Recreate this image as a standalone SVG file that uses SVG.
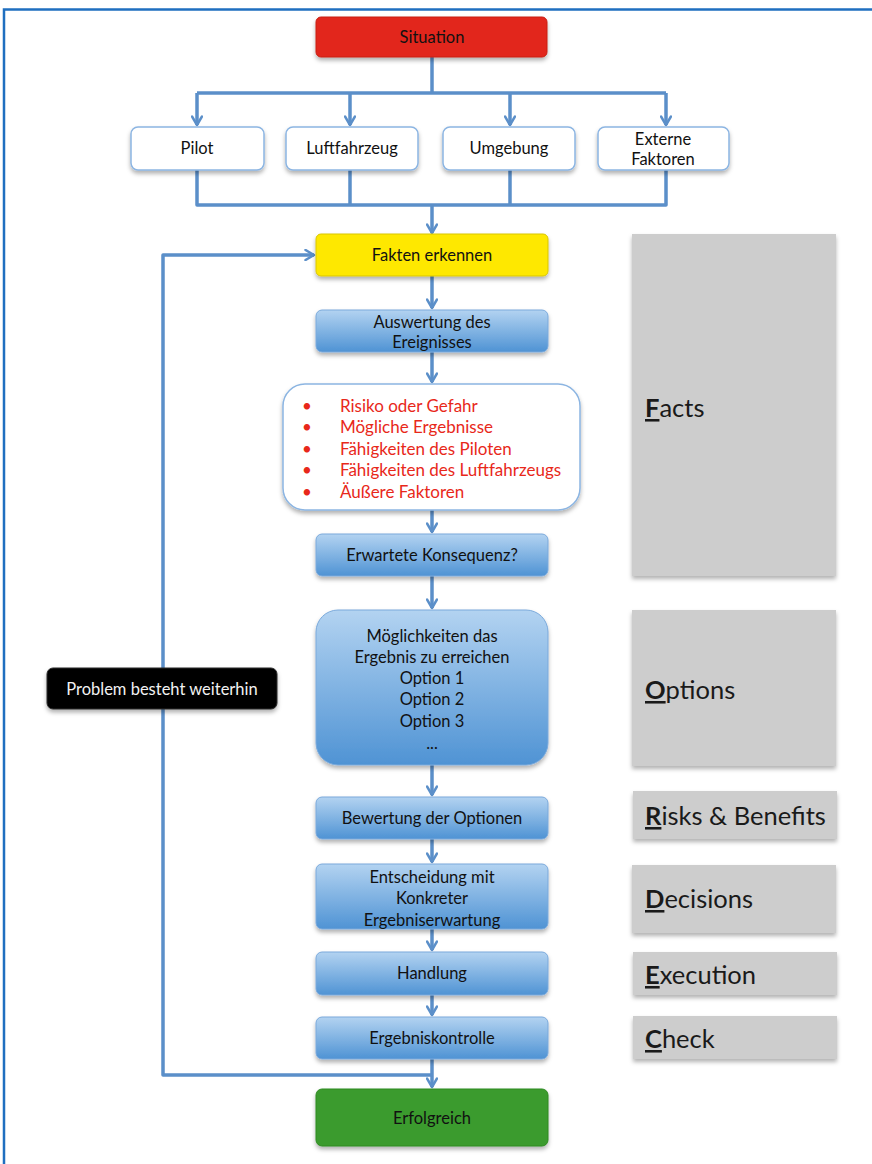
<svg xmlns="http://www.w3.org/2000/svg" width="872" height="1164" viewBox="0 0 872 1164">
<defs>
<linearGradient id="blueg" x1="0" y1="0" x2="0" y2="1">
<stop offset="0" stop-color="#b3d3f1"/>
<stop offset="1" stop-color="#4f93d4"/>
</linearGradient>
<filter id="sh" x="-10%" y="-10%" width="120%" height="130%">
<feDropShadow dx="0" dy="3" stdDeviation="2" flood-color="#000" flood-opacity="0.3"/>
</filter>
<marker id="arr" viewBox="0 0 12 12" refX="10" refY="6" markerWidth="12" markerHeight="12" markerUnits="userSpaceOnUse" orient="auto">
<path d="M1.5,1 L10,6 L1.5,11" fill="none" stroke="#5b8fc9" stroke-width="2.5" stroke-linecap="round" stroke-linejoin="round"/>
</marker>
</defs>
<style>
.t{font-family:Lato,"Liberation Sans",sans-serif;font-size:16.5px;fill:#111;text-anchor:middle}
.b{font-family:Lato,"Liberation Sans",sans-serif;font-size:17px;fill:#e8281a}
.g{font-family:Lato,"Liberation Sans",sans-serif;font-size:25.5px;fill:#1a1a1a}
.u{text-decoration:underline;font-weight:bold}
.blue{fill:url(#blueg);stroke:#7aa9db;stroke-width:1;filter:url(#sh)}
.white{fill:#fff;stroke:#8cb5e2;stroke-width:1.5;filter:url(#sh)}
.gray{fill:#cdcdcd;filter:url(#sh)}
.c{fill:none;stroke:#5b8fc9;stroke-width:3.5;stroke-linejoin:round}
</style>
<rect x="0" y="0" width="872" height="1164" fill="#fff"/>
<path d="M4,1164 L4,9.5 L872,9.5" fill="none" stroke="#1f6fc0" stroke-width="2.5"/>

<g id="connectors">
<path class="c" d="M432,57 L432,93"/>
<path class="c" d="M197,93 L666,93"/>
<path class="c" d="M197,93 L197,125" marker-end="url(#arr)"/>
<path class="c" d="M350,93 L350,125" marker-end="url(#arr)"/>
<path class="c" d="M510,93 L510,125" marker-end="url(#arr)"/>
<path class="c" d="M666,93 L666,125" marker-end="url(#arr)"/>
<path class="c" d="M197,170 L197,205 L666,205 L666,170"/>
<path class="c" d="M350,170 L350,205"/>
<path class="c" d="M510,170 L510,205"/>
<path class="c" d="M432,205 L432,233" marker-end="url(#arr)"/>
<path class="c" d="M432,276 L432,308" marker-end="url(#arr)"/>
<path class="c" d="M432,352 L432,382" marker-end="url(#arr)"/>
<path class="c" d="M432,510 L432,532" marker-end="url(#arr)"/>
<path class="c" d="M432,576 L432,608" marker-end="url(#arr)"/>
<path class="c" d="M432,765 L432,795" marker-end="url(#arr)"/>
<path class="c" d="M432,839 L432,862" marker-end="url(#arr)"/>
<path class="c" d="M432,929 L432,950" marker-end="url(#arr)"/>
<path class="c" d="M432,995 L432,1015" marker-end="url(#arr)"/>
<path class="c" d="M432,1059 L432,1087" marker-end="url(#arr)"/>
<path class="c" d="M432,1075 L163,1075 L163,255 L314,255" marker-end="url(#arr)"/>
</g>

<g id="situation">
<rect x="316" y="17" width="231" height="40" rx="5" fill="#e2261a" stroke="#c81e12" filter="url(#sh)"/>
<text class="t" x="432" y="43">Situation</text>
</g>
<g id="pilot">
<rect class="white" x="131" y="127" width="133" height="43" rx="7"/>
<text class="t" x="197" y="154">Pilot</text>
</g>
<g id="luftfahrzeug">
<rect class="white" x="286" y="127" width="132" height="43" rx="7"/>
<text class="t" x="352" y="154">Luftfahrzeug</text>
</g>
<g id="umgebung">
<rect class="white" x="443" y="127" width="132" height="43" rx="7"/>
<text class="t" x="509" y="154">Umgebung</text>
</g>
<g id="externe">
<rect class="white" x="598" y="127" width="131" height="43" rx="7"/>
<text class="t" x="663" y="145">Externe</text>
<text class="t" x="663" y="165">Faktoren</text>
</g>
<g id="fakten">
<rect x="316" y="234" width="232" height="42" rx="5" fill="#fee800" stroke="#d9c600" filter="url(#sh)"/>
<text class="t" x="432" y="261">Fakten erkennen</text>
</g>
<g id="auswertung">
<rect class="blue" x="316" y="310" width="232" height="42" rx="6"/>
<text class="t" x="432" y="328">Auswertung des</text>
<text class="t" x="432" y="348">Ereignisses</text>
</g>
<g id="liste">
<rect class="white" x="283" y="384" width="297" height="126" rx="22"/>
<g class="b">
<text x="302" y="412">•</text><text x="340" y="412">Risiko oder Gefahr</text>
<text x="302" y="433">•</text><text x="340" y="433">Mögliche Ergebnisse</text>
<text x="302" y="455">•</text><text x="340" y="455">Fähigkeiten des Piloten</text>
<text x="302" y="476">•</text><text x="340" y="476">Fähigkeiten des Luftfahrzeugs</text>
<text x="302" y="498">•</text><text x="340" y="498">Äußere Faktoren</text>
</g>
</g>
<g id="konsequenz">
<rect class="blue" x="316" y="534" width="232" height="42" rx="6"/>
<text class="t" x="432" y="561">Erwartete Konsequenz?</text>
</g>
<g id="moeglichkeiten">
<rect class="blue" x="316" y="610" width="232" height="155" rx="22"/>
<text class="t" x="432" y="642">Möglichkeiten das</text>
<text class="t" x="432" y="663">Ergebnis zu erreichen</text>
<text class="t" x="432" y="684">Option 1</text>
<text class="t" x="432" y="705">Option 2</text>
<text class="t" x="432" y="727">Option 3</text>
<text class="t" x="432" y="749">...</text>
</g>
<g id="bewertung">
<rect class="blue" x="316" y="797" width="232" height="42" rx="6"/>
<text class="t" x="432" y="824">Bewertung der Optionen</text>
</g>
<g id="entscheidung">
<rect class="blue" x="316" y="864" width="232" height="65" rx="6"/>
<text class="t" x="432" y="883">Entscheidung mit</text>
<text class="t" x="432" y="904">Konkreter</text>
<text class="t" x="432" y="926">Ergebniserwartung</text>
</g>
<g id="handlung">
<rect class="blue" x="316" y="952" width="232" height="43" rx="6"/>
<text class="t" x="432" y="979">Handlung</text>
</g>
<g id="kontrolle">
<rect class="blue" x="316" y="1017" width="232" height="42" rx="6"/>
<text class="t" x="432" y="1044">Ergebniskontrolle</text>
</g>
<g id="erfolgreich">
<rect x="316" y="1089" width="232" height="57" rx="6" fill="#3b9b2d" stroke="#2f8a22" filter="url(#sh)"/>
<text class="t" x="432" y="1124">Erfolgreich</text>
</g>
<g id="problem">
<rect x="47" y="668" width="230" height="41" rx="6" fill="#050505" stroke="#2a2a2a" filter="url(#sh)"/>
<text class="t" x="162" y="695" style="fill:#f2f2f2">Problem besteht weiterhin</text>
</g>

<g id="facts">
<rect class="gray" x="632" y="234" width="204" height="342"/>
<text class="g" x="645" y="417"><tspan class="u">F</tspan>acts</text>
</g>
<g id="options">
<rect class="gray" x="632" y="610" width="204" height="156"/>
<text class="g" x="645" y="699"><tspan class="u">O</tspan>ptions</text>
</g>
<g id="risks">
<rect class="gray" x="633" y="791" width="204" height="48"/>
<text class="g" x="645" y="825"><tspan class="u">R</tspan>isks &amp; Benefits</text>
</g>
<g id="decisions">
<rect class="gray" x="632" y="865" width="204" height="68"/>
<text class="g" x="645" y="908"><tspan class="u">D</tspan>ecisions</text>
</g>
<g id="execution">
<rect class="gray" x="633" y="952" width="204" height="43"/>
<text class="g" x="645" y="984"><tspan class="u">E</tspan>xecution</text>
</g>
<g id="check">
<rect class="gray" x="633" y="1016" width="204" height="43"/>
<text class="g" x="645" y="1048"><tspan class="u">C</tspan>heck</text>
</g>
</svg>
